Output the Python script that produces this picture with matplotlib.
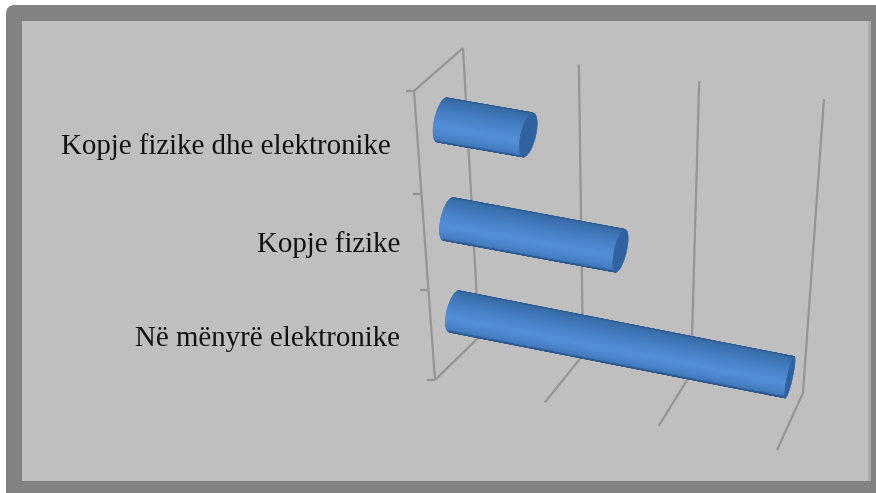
import numpy as np
import matplotlib
matplotlib.use("Agg")
import matplotlib.pyplot as plt
from matplotlib.colors import LinearSegmentedColormap
from matplotlib.patches import FancyBboxPatch, Rectangle, Polygon

# ---- data ----
categories = ["Kopje fizike dhe elektronike", "Kopje fizike", "Në mënyrë elektronike"]
values = [0.74, 1.51, 2.97]
value_ticks = [0, 1, 2, 3]
category_edges = [0, 1, 2, 3]

W, H = 876, 493
fig = plt.figure(figsize=(W / 100, H / 100), dpi=100, facecolor="white")
ax = fig.add_axes([0, 0, 1, 1])
ax.set_xlim(0, W)
ax.set_ylim(H, 0)
ax.axis("off")

# frame
ax.add_patch(FancyBboxPatch((14, 13), W + 20, H + 20, boxstyle="round,pad=8,rounding_size=9",
                            fc="#828282", ec="none", zorder=0))
ax.add_patch(Rectangle((22, 21), 849, 460, fc="#bfbfbf", ec="none", zorder=1))
ax.add_patch(Rectangle((868, 21), 3, 460, fc="#acacac", ec="none", zorder=1))

# 3-D box corners on the page (back / front, top / bottom, left / right)
BTL, BTR = np.array([463., 48.]), np.array([824., 99.])
BBL, BBR = np.array([479., 337.]), np.array([803., 393.])
FTL, FTR = np.array([414., 91.]), np.array([796., 156.])
FBL, FBR = np.array([435., 380.]), np.array([777., 450.])


def f(v):
    return 0.3148 * v + 0.00617 * v ** 2


def g(c):
    return 0.3673 * c - 0.0113 * c ** 2


def project(v, c, d):
    """value v (0-3), category position c (0-3 from top), depth d (0 back, 1 front)"""
    u, w = f(v), g(c)
    back = (1 - w) * ((1 - u) * BTL + u * BTR) + w * ((1 - u) * BBL + u * BBR)
    front = (1 - w) * ((1 - u) * FTL + u * FTR) + w * ((1 - u) * FBL + u * FBR)
    return (1 - d) * back + d * front


def bar_axis(v, c):
    """Centre line of a cylinder: mid-depth of the box, with the slight extra tilt of the bars."""
    p = project(v, c, 0.49)
    return np.array([p[0], p[1] + 2.0 - 0.8 * c + 1.5 * v])


grid = dict(color="#959595", lw=1.6, zorder=2, solid_capstyle="butt")
for v in value_ticks:
    a, b, c_ = project(v, 0, 0), project(v, 3, 0), project(v, 3, 1)
    ax.plot([a[0], b[0], c_[0]], [a[1], b[1], c_[1]], **grid)
a, b, c_ = project(0, 0, 0), project(0, 0, 1), project(0, 3, 1)
ax.plot([a[0], b[0], c_[0]], [a[1], b[1], c_[1]], **grid)
for c in category_edges:
    p = project(0, c, 1)
    ax.plot([p[0] - 8, p[0]], [p[1], p[1]], **grid)

# cylinders
cmap = LinearSegmentedColormap.from_list(
    "cyl", [(0.0, "#2c5a94"), (0.05, "#35689f"), (0.25, "#3f76b8"),
            (0.58, "#5490da"), (0.85, "#4279bd"), (0.95, "#33669f"), (1.0, "#2a5585")])


def ellipse(centre, c_pos, v, t):
    major = np.array([-4.3, 22.3 - 0.7 * c_pos])
    minor = min(7.8, 9.8 - 2.3 * v)
    return centre[0] + major[0] * -np.cos(t) - minor * np.sin(t), \
        centre[1] - major[1] * np.cos(t) + 0.8 * np.sin(t)


for i, val in enumerate(values):
    c_pos = i + 0.47
    vs = np.linspace(0, val, 25)
    ts = np.linspace(0, np.pi, 48)
    X = np.zeros((len(vs), len(ts)))
    Y = np.zeros_like(X)
    C = np.zeros_like(X)
    for j, v in enumerate(vs):
        cen = bar_axis(v, c_pos)
        ex, ey = ellipse(cen, c_pos, v, ts)
        X[j] = ex
        Y[j] = ey
        C[j] = ts / np.pi
    ax.pcolormesh(X, Y, C, cmap=cmap, vmin=0, vmax=1, shading="gouraud", zorder=3)
    ax.plot(X[:, 0], Y[:, 0], color="#2c5a94", lw=0.6, zorder=4)
    ax.plot(X[:, -1], Y[:, -1], color="#2c5a94", lw=0.6, zorder=4)
    # near end cap
    cen1 = bar_axis(val, c_pos)
    tf = np.linspace(0, 2 * np.pi, 80)
    ex1, ey1 = ellipse(cen1, c_pos, val, tf)
    ax.add_patch(Polygon(np.column_stack([ex1, ey1]), closed=True,
                         fc="#30629f", ec="#30629f", lw=0.4, zorder=5))

for name, x, y in zip(categories, [391, 400, 400], [153.5, 252.5, 346.5]):
    ax.text(x, y, name, ha="right", va="baseline", fontsize=20.8,
            family=["Liberation Serif", "DejaVu Serif"], color="#111111", zorder=6)

fig.savefig("out.png", dpi=100, facecolor="white")
